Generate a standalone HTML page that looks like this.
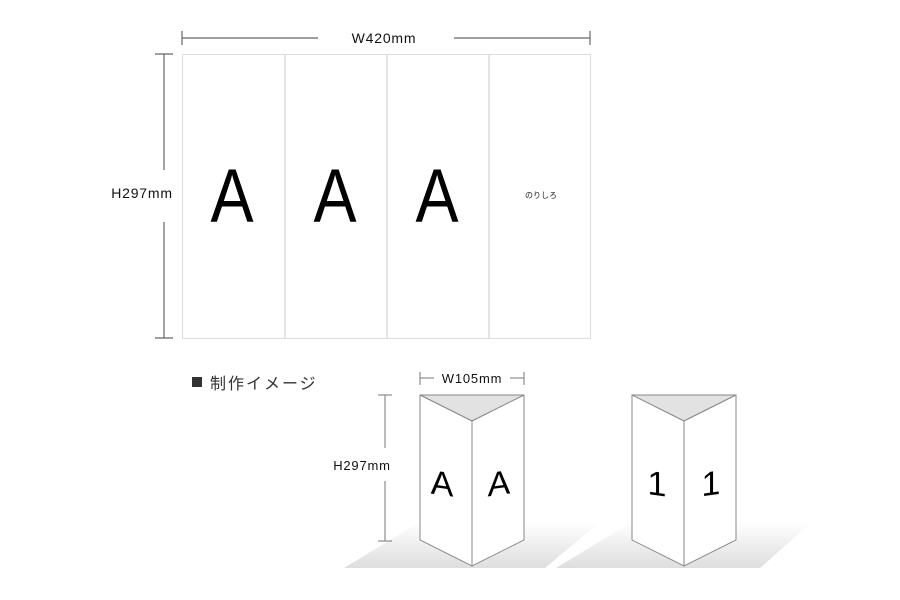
<!DOCTYPE html>
<html><head><meta charset="utf-8"><style>
html,body{margin:0;padding:0;background:#fff;}
svg{display:block;}
text{font-family:"Liberation Sans","Noto Sans CJK JP",sans-serif;}
</style></head><body>
<svg width="900" height="600" viewBox="0 0 900 600" xmlns="http://www.w3.org/2000/svg">
<defs>
<linearGradient id="sh" x1="0" y1="1" x2="0" y2="0">
<stop offset="0" stop-color="#dedede"/><stop offset="1" stop-color="#ffffff"/>
</linearGradient>
</defs>
<g stroke="#666" stroke-width="1.2">
<line x1="182" y1="38" x2="318" y2="38"/><line x1="454" y1="38" x2="590" y2="38"/>
<line x1="182" y1="31" x2="182" y2="45"/><line x1="590" y1="31" x2="590" y2="45"/>
<line x1="164" y1="54" x2="164" y2="170"/><line x1="164" y1="222" x2="164" y2="338"/>
<line x1="155" y1="54" x2="173" y2="54"/><line x1="155" y1="338" x2="173" y2="338"/>
</g>
<text x="384" y="43" font-size="14" text-anchor="middle" fill="#111" letter-spacing="0.8">W420mm</text>
<text x="142" y="198" font-size="14" text-anchor="middle" fill="#111" letter-spacing="0.8">H297mm</text>
<rect x="182.5" y="54.5" width="408" height="284" fill="#fff" stroke="#ddd"/>
<g stroke="#c8c8c8"><line x1="285" y1="55" x2="285" y2="338"/><line x1="387" y1="55" x2="387" y2="338"/><line x1="489" y1="55" x2="489" y2="338"/></g>
<g font-size="76" fill="#000" text-anchor="middle">
<text x="232" y="222" transform="translate(232 0) scale(0.85 1) translate(-232 0)">A</text>
<text x="335" y="222" transform="translate(335 0) scale(0.85 1) translate(-335 0)">A</text>
<text x="437" y="222" transform="translate(437 0) scale(0.85 1) translate(-437 0)">A</text>
</g>
<text x="541" y="198" font-size="8" text-anchor="middle" fill="#222">のりしろ</text>
<rect x="192" y="377" width="10" height="10" fill="#333"/>
<text x="210" y="389" font-size="16" fill="#333" letter-spacing="2">制作イメージ</text>
<polygon points="344,568 545,568 600,522 420,522" fill="url(#sh)"/>
<polygon points="556,568 760,568 812,522 632,522" fill="url(#sh)"/>
<g stroke="#777" stroke-width="1">
<line x1="420" y1="378" x2="434" y2="378"/><line x1="510" y1="378" x2="524" y2="378"/>
<line x1="420" y1="372" x2="420" y2="385"/><line x1="524" y1="372" x2="524" y2="385"/>
<line x1="385" y1="395" x2="385" y2="448"/><line x1="385" y1="481" x2="385" y2="541"/>
<line x1="378" y1="395" x2="392" y2="395"/><line x1="378" y1="541" x2="392" y2="541"/>
</g>
<text x="472" y="383" font-size="13" text-anchor="middle" fill="#111" letter-spacing="0.8">W105mm</text>
<text x="362" y="470" font-size="13" text-anchor="middle" fill="#111" letter-spacing="0.8">H297mm</text>
<g stroke="#888" stroke-width="1">
<polygon points="420,395 524,395 472,421" fill="#e2e2e2"/>
<polygon points="420,395 472,421 472,566 420,540" fill="#fff"/>
<polygon points="472,421 524,395 524,540 472,566" fill="#fff"/>
</g>
<g font-size="34" fill="#000" text-anchor="middle">
<text x="442" y="495" transform="skewY(8) translate(0 -62)">A</text>
<text x="499" y="495" transform="skewY(-8) translate(0 70)">A</text>
</g>
<g stroke="#888" stroke-width="1">
<polygon points="632,395 736,395 684,421" fill="#e2e2e2"/>
<polygon points="632,395 684,421 684,566 632,540" fill="#fff"/>
<polygon points="684,421 736,395 736,540 684,566" fill="#fff"/>
</g>
<g font-size="34" fill="#000" text-anchor="middle">
<text x="657" y="495" transform="skewY(8) translate(0 -92)">1</text>
<text x="711" y="495" transform="skewY(-8) translate(0 100)">1</text>
</g>
</svg>
</body></html>
